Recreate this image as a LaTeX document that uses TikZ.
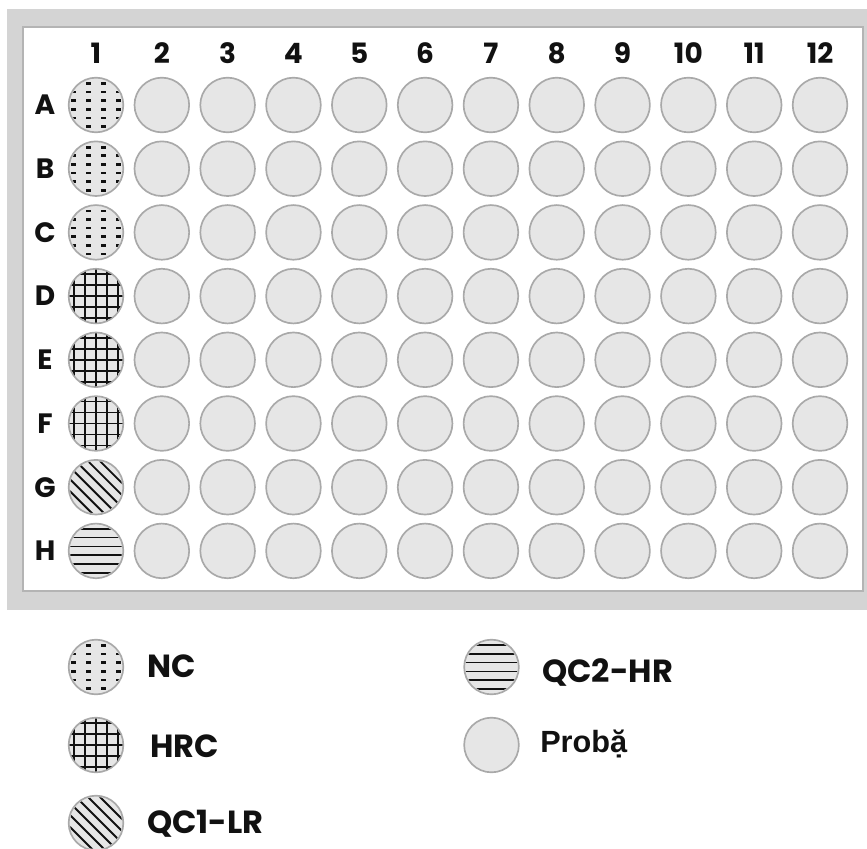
\documentclass[tikz,border=0pt]{standalone}
\usepackage{fontspec}
\newfontfamily\platefont{Poppins}
\newfontfamily\probafont{Liberation Sans}

\definecolor{frameGrey}{HTML}{D4D4D4}
\definecolor{edgeGrey}{HTML}{B4B4B4}
\definecolor{wellFill}{HTML}{E6E6E6}
\definecolor{wellEdge}{HTML}{A9A9A9}
\definecolor{ink}{HTML}{111111}

\tikzset{
  well/.style={circle, draw=wellEdge, fill=wellFill, line width=1.25pt,
               minimum size=41pt, inner sep=0pt},
  hdr/.style={font=\platefont\bfseries\fontsize{21}{21}\selectfont, text=ink, inner sep=0pt},
  legtxt/.style={font=\platefont\bfseries\fontsize{24}{24}\selectfont, text=ink,
                 inner sep=0pt, anchor=base west},
  hatch/.style={draw=ink, line width=1.4pt},
  % negative control: rows of short dashes
  pics/ncdots/.style={code={
    \begin{scope}
      \clip (0,0) circle (26);
      \foreach \dx in {-22.5,-7.5,7.5,22.5}
        \foreach \dy in {-21.5,-12.9,-4.3,4.3,12.9,21.5}
          \draw[draw=ink, line width=2pt] (\dx-2.4,\dy) -- (\dx+2.4,\dy);
    \end{scope}}},
  % high-range control: square grid
  pics/hrcgrid/.style={code={
    \begin{scope}
      \clip (0,0) circle (26.5);
      \foreach \d in {-22,-11,0,11,22} {
        \draw[hatch] (\d,-30) -- (\d,30);
        \draw[hatch] (-30,\d) -- (30,\d);
      }
    \end{scope}}},
  % QC1-LR: diagonal hatching
  pics/qcdiag/.style={code={
    \begin{scope}
      \clip (0,0) circle (26);
      \foreach \k in {-21.25,-12.75,-4.25,4.25,12.75,21.25}
        \draw[hatch] ({\k*0.7071-30},{-\k*0.7071-30}) -- ({\k*0.7071+30},{-\k*0.7071+30});
    \end{scope}}},
  % QC2-HR: horizontal hatching
  pics/qchoriz/.style={code={
    \begin{scope}
      \clip (0,0) circle (26);
      \foreach \d in {-22.25,-13.35,-4.45,4.45,13.35,22.25}
        \draw[hatch] (-30,\d) -- (30,\d);
    \end{scope}}}
}

\begin{document}
\begin{tikzpicture}[x=0.75pt,y=-0.75pt]
  \useasboundingbox (0,0) rectangle (867,849);
  \fill[white] (0,0) rectangle (867,849);

  % plate frame
  \fill[frameGrey] (7,9) rectangle (867,610);
  \filldraw[fill=white, draw=edgeGrey, line width=0.9pt] (23,27) rectangle (863,591);

  % column numbers
  \foreach \c in {1,...,12}
    \node[hdr] (col-\c) at ({96+(\c-1)*65.82},53) {\c};

  % row letters and wells
  \foreach \r [count=\i] in {A,B,C,D,E,F,G,H} {
    \node[hdr] (row-\r) at (45,{105+(\i-1)*63.7}) {\r};
    \foreach \c in {1,...,12}
      \node[well] (w-\r-\c) at ({96+(\c-1)*65.82},{105+(\i-1)*63.7}) {};
  }

  % controls in column 1
  \foreach \r in {A,B,C} \pic at (w-\r-1) {ncdots};
  \foreach \r in {D,E,F} \pic at (w-\r-1) {hrcgrid};
  \pic at (w-G-1) {qcdiag};
  \pic at (w-H-1) {qchoriz};

  % legend
  \node[well] (leg-nc)  at (96,667) {};   \pic at (leg-nc) {ncdots};
  \node[well] (leg-hrc) at (96,745) {};   \pic at (leg-hrc) {hrcgrid};
  \node[well] (leg-qc1) at (96,823) {};   \pic at (leg-qc1) {qcdiag};
  \node[well] (leg-qc2) at (491.5,667) {}; \pic at (leg-qc2) {qchoriz};
  \node[well] (leg-smp) at (491.5,745) {};

  \node[legtxt] (txt-nc)  at (147,677) {NC};
  \node[legtxt] (txt-hrc) at (150,757) {HRC};
  \node[legtxt] (txt-qc1) at (147,833) {QC1-LR};
  \node[legtxt] (txt-qc2) at (542,682) {QC2-HR};
  \node[legtxt, font=\probafont\bfseries\fontsize{23}{23}\selectfont] (txt-smp) at (540,752) {Probặ};
\end{tikzpicture}
\end{document}
